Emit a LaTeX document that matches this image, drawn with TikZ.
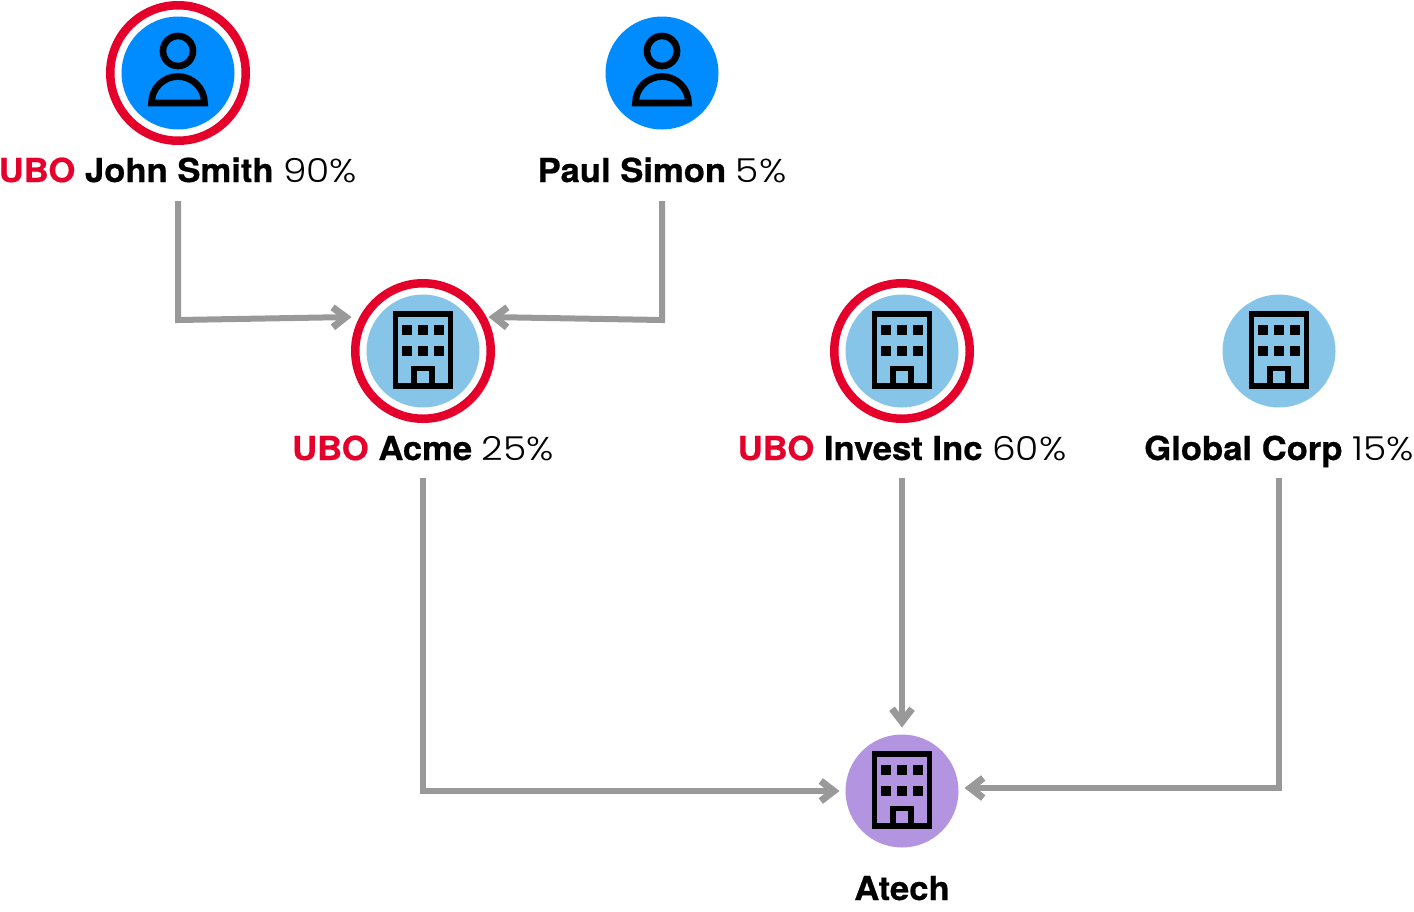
\documentclass[tikz,border=0pt]{standalone}
\usepackage{fontspec}
\usetikzlibrary{arrows.meta}
\setmainfont{TeX Gyre Heros}[BoldFeatures={FakeStretch=1.05,FakeBold=0.6}]
\newfontfamily\lightfont{Poppins Light}[BoldFont={Poppins Light},FakeStretch=1.14]
\definecolor{ubored}{HTML}{E4002B}
\definecolor{personblue}{HTML}{008CFF}
\definecolor{companyblue}{HTML}{86C5E8}
\definecolor{targetpurple}{HTML}{B294E0}
\definecolor{linkgrey}{HTML}{999999}
\newcommand{\ubo}{\textcolor{ubored}{UBO}}
\newcommand{\pct}[1]{{\lightfont\mdseries #1}}
\tikzset{
  x=1pt,y=-1pt,
  disc/.style={circle,minimum size=113pt,inner sep=0pt,outer sep=0pt},
  ring/.style={circle,draw=ubored,line width=8.5pt,minimum size=135.5pt,inner sep=0pt,outer sep=0pt},
  lbl/.style={anchor=base,inner sep=0pt,font=\fontsize{33}{36}\selectfont\bfseries},
  link/.style={draw=linkgrey,line width=6pt,miter limit=10,-{Straight Barb[length=13pt,width=20pt,line width=7pt]}},
  person/.pic={
    \draw[line width=6.7pt] (0,-22) circle (15);
    \draw[line width=6.7pt] (-26.5,30) arc[start angle=180,end angle=360,radius=26.5] -- cycle;
  },
  building/.pic={
    \draw[line width=5.5pt] (-27.7,-37.2) rectangle (27.7,34.8);
    \foreach \px in {-16.3,0,15.7}\foreach \py in {-21,0}
      \fill (\px-5,\py-5) rectangle (\px+5,\py+5);
    \draw[line width=5.5pt] (-9,35) -- (-9,17.5) -- (9,17.5) -- (9,35);
  }
}
\begin{document}
\begin{tikzpicture}
\useasboundingbox (0,0) rectangle (1414,911);
% discs
\node[disc,fill=personblue] (john) at (178,73) {};
\node[ring] (johnring) at (178,73) {};
\node[disc,fill=personblue] (paul) at (662,73) {};
\node[disc,fill=companyblue] (acme) at (423,351) {};
\node[ring] (acmering) at (423,351) {};
\node[disc,fill=companyblue] (invest) at (902,351) {};
\node[ring] (investring) at (902,351) {};
\node[disc,fill=companyblue] (global) at (1279,351) {};
\node[disc,fill=targetpurple] (atech) at (902,791) {};
% icons
\pic at (john) {person};
\pic at (paul) {person};
\pic at (acme) {building};
\pic at (invest) {building};
\pic at (global) {building};
\pic at (atech) {building};
% labels
\node[lbl] (johnlbl) at (178,182) {\ubo{} John Smith \pct{90\%}};
\node[lbl] (paullbl) at (662,182) {Paul Simon \pct{5\%}};
\node[lbl] (acmelbl) at (423,460) {\ubo{} Acme \pct{25\%}};
\node[lbl] (investlbl) at (902,460) {\ubo{} Invest Inc \pct{60\%}};
\node[lbl] (globallbl) at (1279,460) {Global Corp \pct{15\%}};
\node[lbl] (atechlbl) at (902,900) {Atech};
% connector ends
\coordinate (js) at (178,201); \coordinate (jc) at (178,320); \coordinate (je) at (351.5,317);
\coordinate (ps) at (662,201); \coordinate (pc) at (662,320); \coordinate (pe) at (488.5,317);
\coordinate (as) at (423,478); \coordinate (ac) at (423,791); \coordinate (ae) at (839.5,791);
\coordinate (is) at (902,478); \coordinate (ie) at (902,727.5);
\coordinate (gs) at (1279,478); \coordinate (gc) at (1279,788); \coordinate (ge) at (964.5,788);
\draw[link] (js) -- (jc) -- (je);
\draw[link] (ps) -- (pc) -- (pe);
\draw[link] (as) -- (ac) -- (ae);
\draw[link] (is) -- (ie);
\draw[link] (gs) -- (gc) -- (ge);
\end{tikzpicture}
\end{document}
